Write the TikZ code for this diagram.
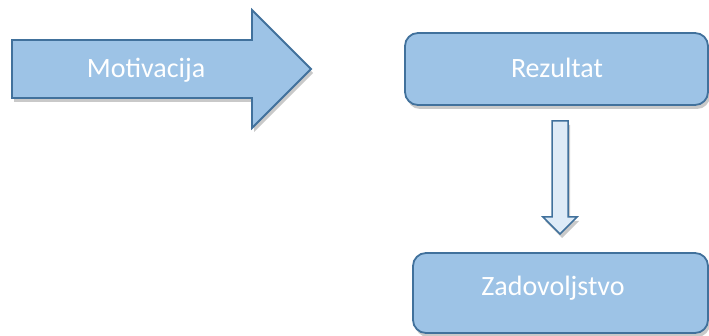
\documentclass[tikz,border=0pt]{standalone}
\usepackage{fontspec}
\setmainfont{Carlito}
\usetikzlibrary{shadows}
\definecolor{boxfill}{HTML}{9DC3E6}
\definecolor{boxline}{HTML}{41719C}
\definecolor{lightfill}{HTML}{DEEBF7}
\begin{document}
\begin{tikzpicture}[x=1pt,y=-1pt,
  shapestyle/.style={fill=boxfill,draw=boxline,line width=1.8pt,line join=miter,
    drop shadow={opacity=0.3,shadow xshift=2pt,shadow yshift=-4pt,fill=black!70}},
  boxstyle/.style={shapestyle,rounded corners=13pt},
  lbl/.style={text=white,font=\fontsize{28}{31}\selectfont,inner sep=0pt}]
\useasboundingbox (0,0) rectangle (709,336);
% big arrow
\draw[shapestyle] (12,40) -- (252,40) -- (252,10) -- (311,69) -- (252,128) -- (252,98) -- (12,98) -- cycle;
\node[lbl] (mot) at (146,70) {Motivacija};
% Rezultat box
\draw[boxstyle] (405,33) rectangle (708,105);
\node[lbl] (rez) at (557,68) {Rezultat};
% down arrow
\draw[shapestyle,fill=lightfill,line width=1.5pt] (552,121) -- (568,121) -- (568,217) -- (577,217) -- (560,234) -- (543,217) -- (552,217) -- cycle;
% Zadovoljstvo box
\draw[boxstyle] (413,253) rectangle (708,333);
\node[lbl] (zad) at (553,288) {Zadovoljstvo};
\end{tikzpicture}
\end{document}
